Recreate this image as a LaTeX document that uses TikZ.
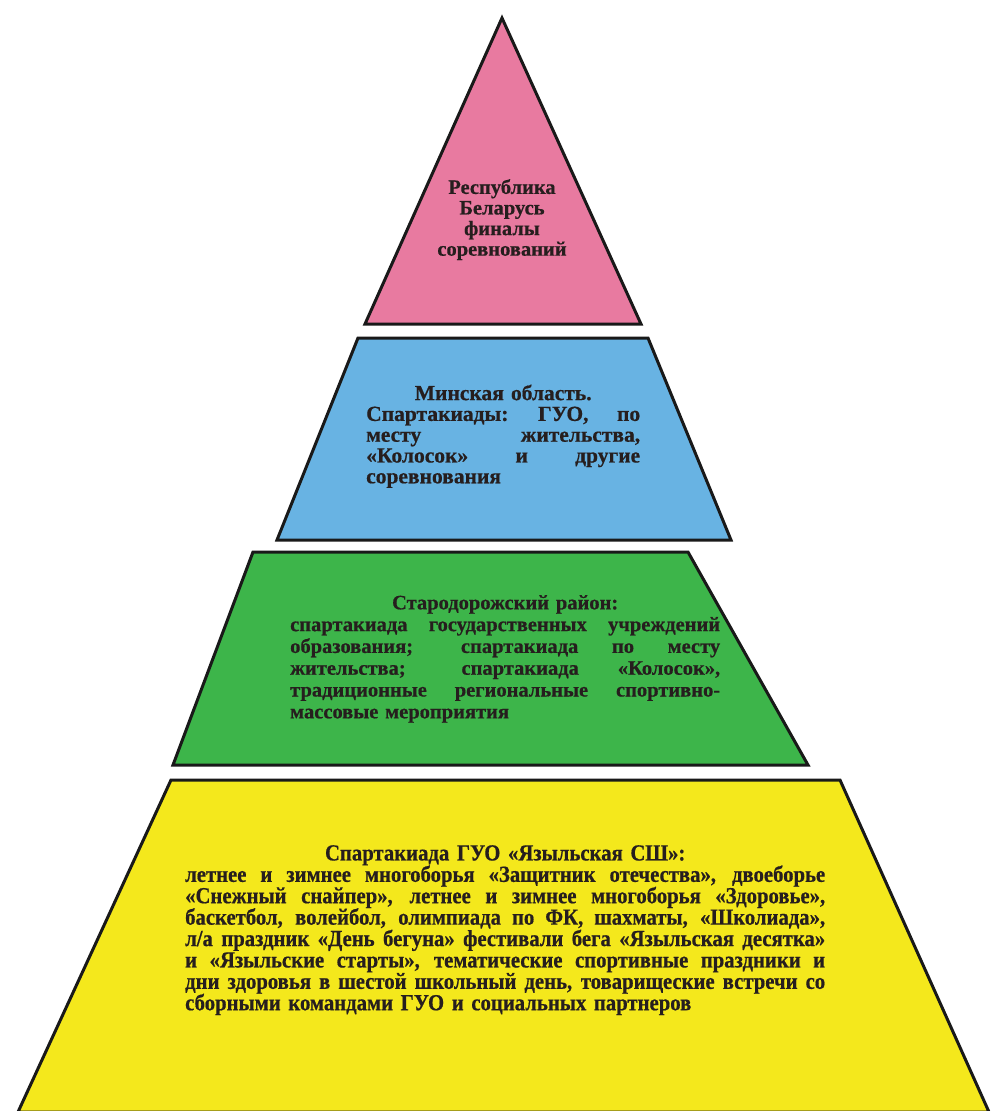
\documentclass[tikz,border=0pt]{standalone}
\usepackage{fontspec}
\setmainfont{Liberation Serif}[BoldFeatures={FakeBold=0.6}]
\newfontfamily\condserif{Liberation Serif}[FakeStretch=0.9, BoldFeatures={FakeBold=0.6}]
\definecolor{pinkc}{RGB}{232,122,160}
\definecolor{bluec}{RGB}{104,179,227}
\definecolor{greenc}{RGB}{61,181,74}
\definecolor{yellowc}{RGB}{244,232,28}
\definecolor{inkc}{RGB}{38,30,30}
% justified line: spaces stretch equally to fill the width
\newcommand{\jline}[2]{\leavevmode\hbox to #1{\spaceskip=0.25em plus 1fil\xspaceskip=0.3em plus 1fil\relax #2}}
% centred line
\newcommand{\ctrline}[2]{\leavevmode\hbox to #1{\hfil #2\hfil}}
\tikzset{
  tier/.style={draw=black!90, line width=3pt, line join=miter},
  lbl/.style={font=\bfseries\fontsize{20.5}{20.6}\selectfont, inner sep=0pt, text=inkc},
  lblb/.style={font=\bfseries\fontsize{21.5}{20.8}\selectfont, inner sep=0pt, text=inkc},
  lblg/.style={font=\bfseries\fontsize{20.5}{21.8}\selectfont, inner sep=0pt, text=inkc},
  lbly/.style={font=\condserif\bfseries\fontsize{23}{21.4}\selectfont, inner sep=0pt, text=inkc}
}
\begin{document}
\begin{tikzpicture}[x=1pt,y=-1pt]
\useasboundingbox (0,0) rectangle (991,1111);
\fill[white] (0,0) rectangle (991,1111);
% tiers
\draw[tier, fill=pinkc] (502,18) -- (641,324) -- (365,324) -- cycle;
\draw[tier, fill=bluec] (358,338) -- (648,338) -- (731,540) -- (277,540) -- cycle;
\draw[tier, fill=greenc] (253,552) -- (688,552) -- (808,765) -- (173,765) -- cycle;
\draw[tier, fill=yellowc] (171,780) -- (840,780) -- (989,1112) -- (18,1112) -- cycle;
% texts
\node[lbl, anchor=north, align=center] (t1) at (502,179)
  {Республика\\Беларусь\\финалы\\соревнований};
\node[lblb, anchor=north west, text width=274pt, align=left] (t2) at (366,384.5)
  {\ctrline{274pt}{Минская область.}\\
   \jline{274pt}{Спартакиады: ГУО, по}\\
   \jline{274pt}{месту жительства,}\\
   \jline{274pt}{«Колосок» и другие}\\
   соревнования};
\node[lblg, anchor=north west, text width=430pt, align=left] (t3) at (290,595)
  {\ctrline{430pt}{Стародорожский район:}\\
   \jline{430pt}{спартакиада государственных учреждений}\\
   \jline{430pt}{образования; спартакиада по месту}\\
   \jline{430pt}{жительства; спартакиада «Колосок»,}\\
   \jline{430pt}{традиционные региональные спортивно-}\\
   массовые мероприятия};
\node[lbly, anchor=north west, text width=640pt, align=left] (t4) at (185,845)
  {\ctrline{640pt}{Спартакиада ГУО «Языльская СШ»:}\\
   \jline{640pt}{летнее и зимнее многоборья «Защитник отечества», двоеборье}\\
   \jline{640pt}{«Снежный снайпер», летнее и зимнее многоборья «Здоровье»,}\\
   \jline{640pt}{баскетбол, волейбол, олимпиада по ФК, шахматы, «Школиада»,}\\
   \jline{640pt}{л/а праздник «День бегуна» фестивали бега «Языльская десятка»}\\
   \jline{640pt}{и «Языльские старты», тематические спортивные праздники и}\\
   \jline{640pt}{дни здоровья в шестой школьный день, товарищеские встречи со}\\
   сборными командами ГУО и социальных партнеров};
\end{tikzpicture}
\end{document}
